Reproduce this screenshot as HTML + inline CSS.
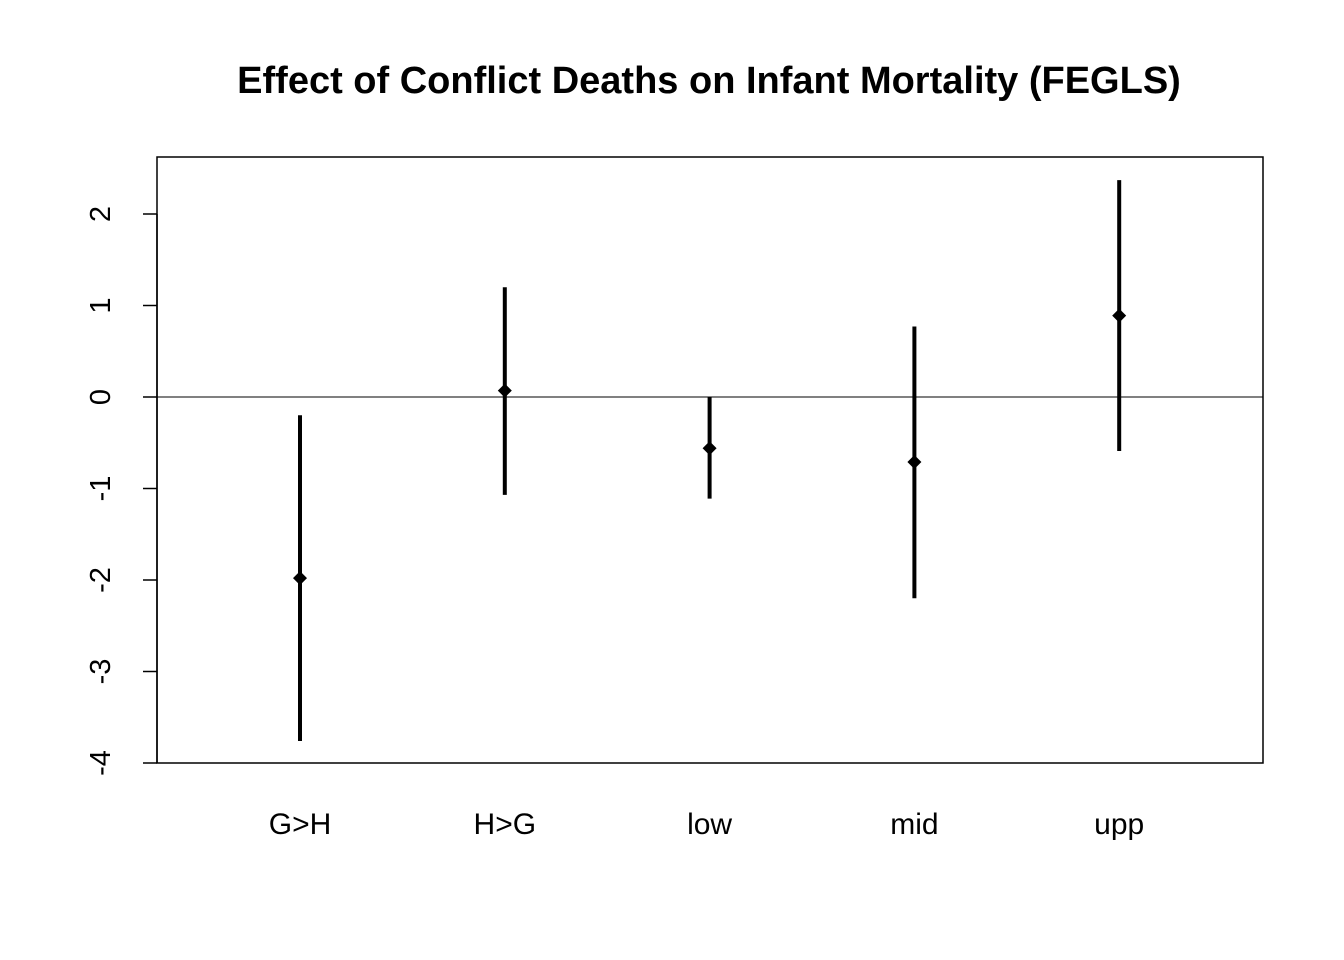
<!DOCTYPE html>
<html><head><meta charset="utf-8"><style>body{margin:0;background:#fff}svg{display:block;font-family:"Liberation Sans",Arial,sans-serif}</style></head>
<body>
<svg id="chart" width="1344" height="960">
<text x="709" y="93" text-anchor="middle" font-size="38" font-weight="bold">Effect of Conflict Deaths on Infant Mortality (FEGLS)</text>
<rect x="157" y="157" width="1106" height="606" fill="none" stroke="#000" stroke-width="1.5"/>
<g id="yaxis"></g>
<g id="marks"></g>
</svg>
<script>
const categories=["G>H","H>G","low","mid","upp"];
const estimates=[-1.98,0.07,-0.56,-0.71,0.89];
const lowers=[-3.76,-1.07,-1.11,-2.2,-0.59];
const uppers=[-0.2,1.2,0,0.77,2.37];
const yTicks=[-4,-3,-2,-1,0,1,2];
const ns="http://www.w3.org/2000/svg";
const y=v=>397-v*91.5;
const x=i=>300+i*204.8;
const svg=document.getElementById('chart'),ya=document.getElementById('yaxis'),mk=document.getElementById('marks');
function mkEl(t,a,p){const e=document.createElementNS(ns,t);for(const k in a)e.setAttribute(k,a[k]);p.appendChild(e);return e;}
let al=mkEl('line',{x1:157,x2:157,y1:y(yTicks[yTicks.length-1]),y2:y(yTicks[0]),stroke:'#000','stroke-width':1.5},ya);


yTicks.forEach(t=>{
 const l=mkEl('line',{x1:143,x2:157,y1:y(t),y2:y(t),stroke:'#000','stroke-width':1.5},ya);
 
 
 const tx=mkEl('text',{x:0,y:0,'font-size':29,'text-anchor':'middle',transform:`translate(110,${y(t)}) rotate(-90)`},ya);
 tx.textContent=t;
 
 
});
const zl=mkEl('line',{x1:157,x2:1263,y1:y(0),y2:y(0),stroke:'#000','stroke-width':1},mk);


categories.forEach((c,i)=>{
 const cx=x(i);
 const l=mkEl('line',{x1:cx,x2:cx,y1:y(lowers[i]),y2:y(uppers[i]),stroke:'#000','stroke-width':4},mk);
 
 
 const py=y(estimates[i]);
 const p=mkEl('polygon',{points:`${cx},${py-7} ${cx+7},${py} ${cx},${py+7} ${cx-7},${py}`,fill:'#000'},mk);
 
 
 const t=mkEl('text',{x:cx,y:834,'font-size':30,'text-anchor':'middle'},mk);
 t.textContent=c;
 
 
});
</script>
</body></html>
